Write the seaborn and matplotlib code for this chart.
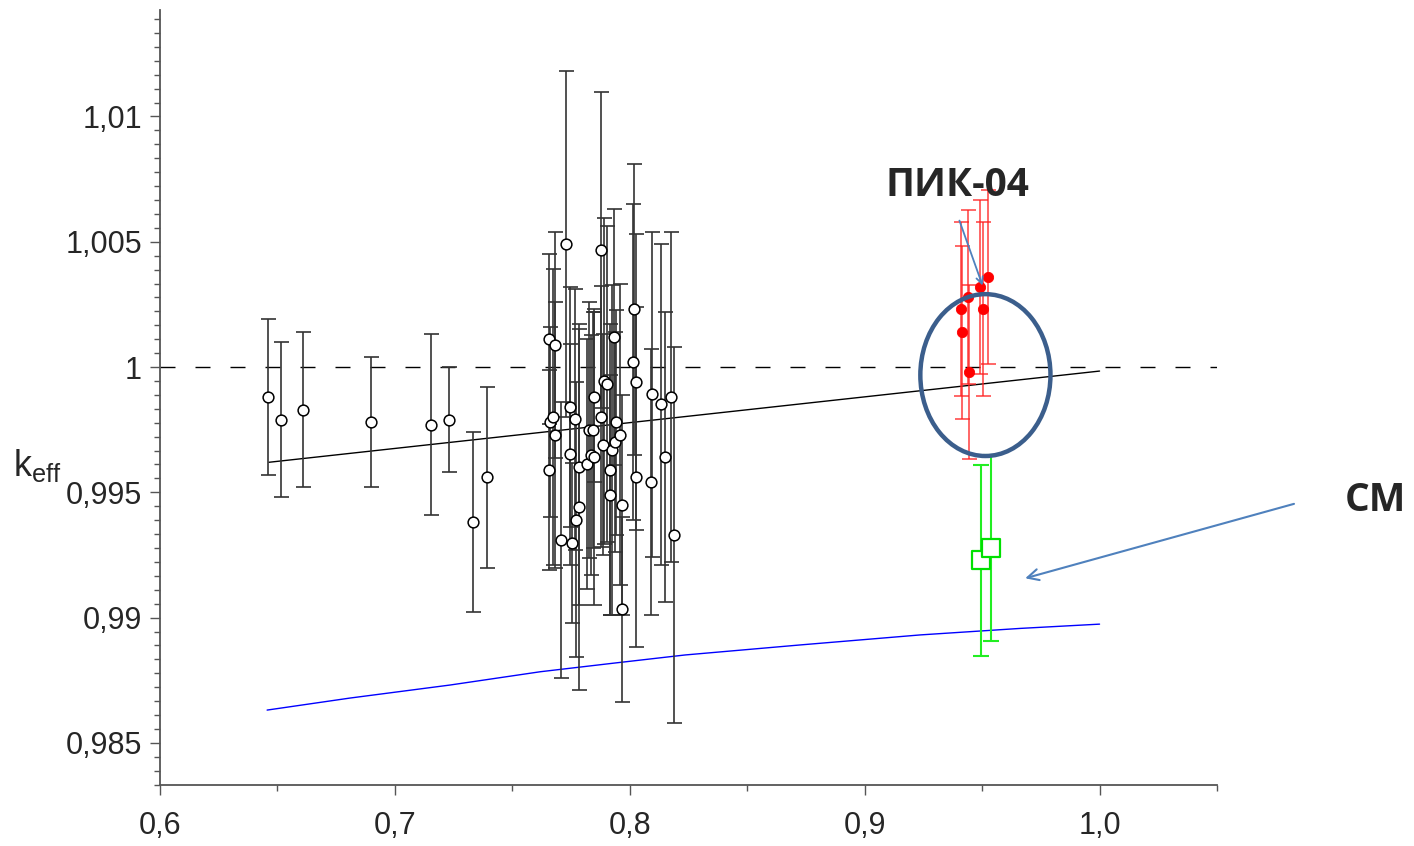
import matplotlib
matplotlib.use("Agg")
import matplotlib.pyplot as plt
import matplotlib.ticker as mticker
from matplotlib.patches import Ellipse
import numpy as np
import pandas as pd
import seaborn as sns

# ---- data ----
# benchmark experiments (open circles)
exp_x = [0.6460, 0.6517, 0.6608, 0.6899, 0.7154, 0.7232, 0.7332, 0.7394,
         0.7654, 0.7657, 0.7661, 0.7675, 0.7681, 0.7681, 0.7707, 0.7728,
         0.7747, 0.7747, 0.7755, 0.7765, 0.7771, 0.7782, 0.7784, 0.7819,
         0.7826, 0.7835, 0.7843, 0.7846, 0.7849, 0.7877, 0.7879, 0.7887,
         0.7891, 0.7904, 0.7914, 0.7916, 0.7923, 0.7934, 0.7937, 0.7943,
         0.7960, 0.7967, 0.7967, 0.8014, 0.8016, 0.8026, 0.8025, 0.8089,
         0.8096, 0.8135, 0.8148, 0.8177, 0.8187]
exp_k = [0.99880, 0.99790, 0.99830, 0.99781, 0.99770, 0.99790, 0.99381, 0.99560,
         0.99589, 1.00112, 0.99781, 0.99802, 1.00088, 0.99729, 0.99310, 1.00490,
         0.99840, 0.99652, 0.99299, 0.99791, 0.99391, 0.99440, 0.99602, 0.99613,
         0.99749, 0.99649, 0.99749, 0.99881, 0.99642, 1.00468, 0.99802, 0.99690,
         0.99944, 0.99932, 0.99590, 0.99489, 0.99669, 1.00120, 0.99701, 0.99779,
         0.99730, 0.99449, 0.99033, 1.00020, 1.00230, 0.99940, 0.99561, 0.99541,
         0.99891, 0.99851, 0.99641, 0.99881, 0.99330]
exp_err = [0.0031, 0.0031, 0.0031, 0.0026, 0.0036, 0.0021, 0.0036, 0.0036,
           0.0040, 0.0034, 0.0038, 0.0059, 0.0045, 0.0053, 0.0055, 0.0069,
           0.0048, 0.0044, 0.0032, 0.0052, 0.0055, 0.0073, 0.0055, 0.0050,
           0.0051, 0.0048, 0.0047, 0.0034, 0.0059, 0.0063, 0.0052, 0.0044,
           0.0065, 0.0063, 0.0058, 0.0048, 0.0066, 0.0051, 0.0044, 0.0045,
           0.0060, 0.0044, 0.0037, 0.0063, 0.0058, 0.0059, 0.0068, 0.0053,
           0.0065, 0.0064, 0.0058, 0.0066, 0.0075]

# ПИК-04 (red)
pik_x = [0.9411, 0.9442, 0.9492, 0.9527, 0.9503, 0.9413, 0.9445]
pik_k = [1.00230, 1.00279, 1.00319, 1.00359, 1.00230, 1.00138, 0.99980]
pik_err = [0.00347, 0.00347, 0.00347, 0.00347, 0.00347, 0.00347, 0.00347]

# СМ (green)
sm_x = [0.9494, 0.9539]
sm_k = [0.99229, 0.99277]
sm_err = [0.00382, 0.00371]

# trend line and blue curve
fit_x = [0.6464, 1.0]
fit_k = [0.99620, 0.99984]
curve_x = [0.6456, 0.6809, 0.7235, 0.7619, 0.7938, 0.8236, 0.8726, 0.9237, 0.9663, 1.0]
curve_k = [0.98631, 0.98679, 0.98731, 0.98784, 0.98819, 0.98851, 0.98891, 0.98931, 0.98957, 0.98974]

sns.set_style("ticks")
plt.rcParams['font.family'] = ['Liberation Sans', 'DejaVu Sans']
plt.rcParams['mathtext.fontset'] = 'custom'
plt.rcParams['mathtext.rm'] = 'Liberation Sans'
plt.rcParams['mathtext.it'] = 'Liberation Sans'

fig = plt.figure(figsize=(14.14, 8.46), dpi=100)
ax = fig.add_axes([160 / 1414, 61 / 846, 1057 / 1414, 775 / 846])

ax.axhline(1.0, color='black', lw=1, ls=(0, (10.8, 14.4)), zorder=1)
sns.lineplot(x=fit_x, y=fit_k, color='black', lw=1, ax=ax, zorder=2)
sns.lineplot(x=curve_x, y=curve_k, color='#0000ff', lw=1, ax=ax, zorder=2)

ax.errorbar(exp_x, exp_k, yerr=exp_err, fmt='none', ecolor='#333333',
            elinewidth=1.2, capsize=5.4, capthick=1.2, zorder=3)
sns.scatterplot(x=exp_x, y=exp_k, marker='o', s=60, facecolor='white',
                edgecolor='black', linewidth=1.1, ax=ax, zorder=4)

ax.errorbar(pik_x, pik_k, yerr=pik_err, fmt='none', ecolor='#ff2020',
            alpha=0.8, elinewidth=1.2, capsize=5.4, capthick=1.2, zorder=3)
sns.scatterplot(x=pik_x, y=pik_k, marker='o', s=55, color='#ff0000',
                edgecolor='#ff0000', ax=ax, zorder=4)

ax.errorbar(sm_x, sm_k, yerr=sm_err, fmt='none', ecolor='#22ee22',
            elinewidth=1.5, capsize=5.8, capthick=1.5, zorder=3)
sns.scatterplot(x=sm_x, y=sm_k, marker='s', s=150, facecolor='white',
                edgecolor='#00e000', linewidth=1.6, ax=ax, zorder=4)

ax.add_patch(Ellipse((0.9514, 0.99968), 0.0554, 0.00646, fill=False,
                     edgecolor='#3b5e8c', lw=3.2, zorder=5))

ax.annotate('', xy=(0.95058, 1.00315), xytext=(0.93994, 1.00595),
            arrowprops=dict(arrowstyle='->', color='#4f81bd', lw=1.3,
                            mutation_scale=12), zorder=6)
ax.annotate('', xy=(0.96720, 0.99154), xytext=(1.08392, 0.99457),
            arrowprops=dict(arrowstyle='->', color='#4f81bd', lw=1.5,
                            mutation_scale=20), annotation_clip=False, zorder=6)
ax.text(0.93951, 1.00726, 'ПИК-04', ha='center', va='center', fontsize=28,
        fontweight='bold', family=['Open Sans', 'DejaVu Sans'])
ax.text(1.11757, 0.99469, 'СМ', ha='center', va='center', fontsize=28,
        fontweight='bold', family=['Open Sans', 'DejaVu Sans'], clip_on=False)

ax.set_xlim(0.6, 1.05)
ax.set_ylim(0.98332, 1.01425)
ax.xaxis.set_major_locator(mticker.MultipleLocator(0.1))
ax.xaxis.set_minor_locator(mticker.MultipleLocator(0.05))
ax.yaxis.set_major_locator(mticker.MultipleLocator(0.005))
ax.yaxis.set_minor_locator(mticker.AutoMinorLocator(9))
ax.xaxis.set_major_formatter(mticker.FuncFormatter(lambda v, p: f'{v:.1f}'.replace('.', ',')))
ax.yaxis.set_major_formatter(mticker.FuncFormatter(lambda v, p: f'{round(v, 4):g}'.replace('.', ',')))
ax.tick_params(axis='both', which='major', labelsize=22, length=7, width=1, color='#555555')
ax.tick_params(axis='both', which='minor', length=4, width=1, color='#555555')
ax.tick_params(axis='x', pad=12)
ax.tick_params(axis='y', pad=6)

for s in ['top', 'right']:
    ax.spines[s].set_visible(False)
for s in ['left', 'bottom']:
    ax.spines[s].set_color('#555555')
    ax.spines[s].set_linewidth(1.3)

fig.text(37 / 1414, 1 - 465 / 846, r'$\mathregular{k_{eff}}$', fontsize=26,
         ha='center', va='center')

fig.savefig('out.png', dpi=100)
